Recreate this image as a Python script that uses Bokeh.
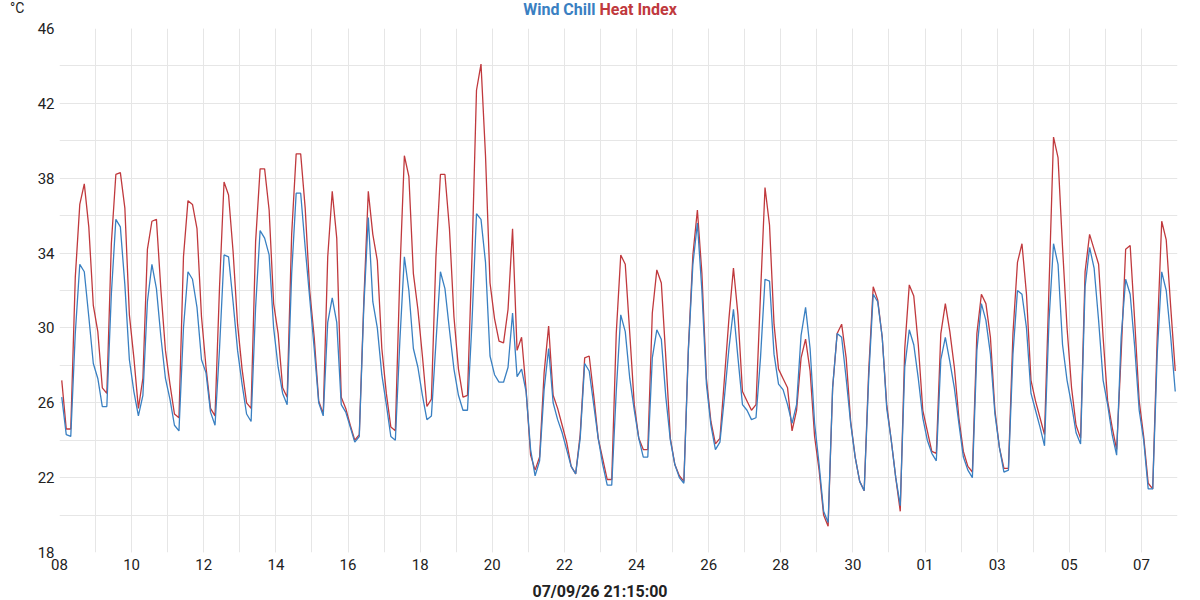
import numpy as np
from bokeh.plotting import figure
from bokeh.layouts import column
from bokeh.models import Range1d, FixedTicker, DatetimeTickFormatter, Div
from bokeh.embed import file_html
from bokeh.resources import INLINE

# readings every 3 hours, 8 per day, 08 Aug -> 07 Sep
first_reading = np.datetime64("2026-08-08T01:30")

heat_index = [
    27.2, 24.6, 24.6, 32.7, 36.6, 37.7, 35.4, 31.2,  # 08
    29.8, 26.8, 26.5, 34.5, 38.2, 38.3, 36.4, 30.7,  # 09
    28.4, 25.7, 27.3, 34.2, 35.7, 35.8, 32.0, 28.8,  # 10
    27.0, 25.4, 25.2, 33.8, 36.8, 36.6, 35.3, 30.6,  # 11
    27.9, 25.7, 25.3, 32.2, 37.8, 37.1, 34.1, 30.2,  # 12
    27.8, 26.0, 25.7, 34.6, 38.5, 38.5, 36.3, 31.3,  # 13
    29.7, 26.8, 26.3, 35.0, 39.3, 39.3, 36.4, 32.0,  # 14
    29.5, 26.1, 25.4, 33.8, 37.3, 34.8, 26.3, 25.7,  # 15
    24.8, 24.0, 24.3, 31.4, 37.3, 35.0, 33.6, 28.9,  # 16
    26.5, 24.7, 24.5, 32.9, 39.2, 38.1, 32.9, 31.0,  # 17
    28.5, 25.8, 26.2, 33.8, 38.2, 38.2, 35.3, 30.6,  # 18
    27.8, 26.3, 26.4, 33.8, 42.7, 44.1, 39.2, 32.4,  # 19
    30.5, 29.3, 29.2, 31.0, 35.3, 28.8, 29.5, 26.7,  # 20
    23.2, 22.4, 23.1, 27.6, 30.1, 26.4, 25.7, 24.8,  # 21
    23.9, 22.6, 22.2, 24.3, 28.4, 28.5, 26.4, 24.1,  # 22
    23.0, 21.9, 21.9, 29.7, 33.9, 33.4, 29.7, 25.9,  # 23
    24.1, 23.5, 23.5, 30.8, 33.1, 32.4, 28.4, 24.1,  # 24
    22.7, 22.1, 21.8, 28.9, 33.9, 36.3, 32.9, 27.3,  # 25
    25.0, 23.8, 24.1, 27.3, 30.5, 33.2, 30.7, 26.6,  # 26
    26.1, 25.6, 25.9, 31.8, 37.5, 35.5, 30.2, 27.8,  # 27
    27.3, 26.8, 24.5, 25.6, 28.4, 29.4, 27.7, 24.2,  # 28
    22.4, 20.0, 19.4, 26.8, 29.7, 30.2, 28.4, 25.0,  # 29
    23.1, 21.8, 21.3, 27.7, 32.2, 31.5, 29.5, 25.9,  # 30
    24.0, 22.0, 20.2, 28.9, 32.3, 31.7, 29.1, 25.6,  # 31
    24.5, 23.4, 23.3, 29.7, 31.3, 29.8, 27.9, 25.2,  # 01
    23.4, 22.6, 22.3, 29.7, 31.8, 31.3, 29.5, 25.6,  # 02
    23.6, 22.5, 22.5, 29.7, 33.5, 34.5, 31.8, 27.2,  # 03
    26.1, 25.2, 24.3, 32.2, 40.2, 39.1, 34.3, 30.0,  # 04
    26.8, 24.8, 24.1, 33.0, 35.0, 34.2, 33.4, 29.5,  # 05
    26.1, 24.7, 23.5, 28.6, 34.2, 34.4, 30.4, 26.1,  # 06
    24.2, 21.7, 21.4, 29.5, 35.7, 34.7, 31.1, 27.7,  # 07
]

wind_chill = [
    26.3, 24.3, 24.2, 29.7, 33.4, 33.0, 30.6, 28.1,  # 08
    27.3, 25.8, 25.8, 31.8, 35.8, 35.4, 32.3, 28.3,  # 09
    26.6, 25.3, 26.4, 31.4, 33.4, 32.1, 29.5, 27.3,  # 10
    26.2, 24.8, 24.5, 30.0, 33.0, 32.6, 31.1, 28.3,  # 11
    27.6, 25.5, 24.8, 28.9, 33.9, 33.8, 31.4, 28.8,  # 12
    27.0, 25.4, 25.0, 31.1, 35.2, 34.8, 33.9, 30.0,  # 13
    27.9, 26.5, 25.9, 32.9, 37.2, 37.2, 34.3, 31.6,  # 14
    28.9, 26.0, 25.3, 30.3, 31.6, 30.3, 25.9, 25.5,  # 15
    24.7, 23.9, 24.2, 31.1, 35.9, 31.4, 30.0, 27.5,  # 16
    25.9, 24.2, 24.0, 29.3, 33.8, 32.0, 28.9, 27.9,  # 17
    26.4, 25.1, 25.3, 29.2, 33.0, 32.1, 29.9, 27.8,  # 18
    26.4, 25.6, 25.6, 30.3, 36.1, 35.8, 33.5, 28.5,  # 19
    27.5, 27.1, 27.1, 27.9, 30.8, 27.4, 27.8, 26.6,  # 20
    23.5, 22.1, 22.9, 26.7, 28.9, 26.0, 25.1, 24.4,  # 21
    23.5, 22.6, 22.2, 24.1, 28.1, 27.7, 25.9, 24.1,  # 22
    22.7, 21.6, 21.6, 26.6, 30.7, 29.8, 27.3, 25.6,  # 23
    24.1, 23.1, 23.1, 28.4, 29.9, 29.4, 26.3, 24.0,  # 24
    22.7, 22.0, 21.7, 28.8, 33.4, 35.6, 32.0, 27.0,  # 25
    24.8, 23.5, 23.9, 26.3, 28.9, 31.0, 28.4, 25.9,  # 26
    25.6, 25.1, 25.2, 28.4, 32.6, 32.5, 28.6, 27.0,  # 27
    26.7, 25.9, 24.9, 25.9, 29.6, 31.1, 28.9, 24.9,  # 28
    22.7, 20.2, 19.6, 26.8, 29.7, 29.5, 27.3, 24.9,  # 29
    23.1, 21.8, 21.3, 27.3, 31.8, 31.4, 29.5, 25.7,  # 30
    24.0, 22.0, 20.5, 27.9, 29.9, 29.1, 27.3, 25.2,  # 31
    24.0, 23.3, 22.9, 28.3, 29.5, 28.2, 26.8, 24.9,  # 01
    23.1, 22.4, 22.0, 28.8, 31.3, 30.4, 28.6, 25.4,  # 02
    23.6, 22.3, 22.4, 28.6, 32.0, 31.8, 30.0, 26.5,  # 03
    25.6, 24.7, 23.7, 30.4, 34.5, 33.4, 29.1, 27.2,  # 04
    25.9, 24.4, 23.8, 32.2, 34.3, 33.2, 30.4, 27.2,  # 05
    25.9, 24.3, 23.2, 29.5, 32.6, 31.8, 29.0, 25.6,  # 06
    24.0, 21.4, 21.4, 28.6, 33.0, 32.0, 29.5, 26.6,  # 07
]

tick_days = ["2026-08-08", "2026-08-10", "2026-08-12", "2026-08-14", "2026-08-16",
             "2026-08-18", "2026-08-20", "2026-08-22", "2026-08-24", "2026-08-26",
             "2026-08-28", "2026-08-30", "2026-09-01", "2026-09-03", "2026-09-05",
             "2026-09-07"]
y_ticks = [18, 22, 26, 30, 34, 38, 42, 46]
y_minor = [20, 24, 28, 32, 36, 40, 44]
stamp = "07/09/26 21:15:00"

BLUE = "#3a80c2"
RED = "#c0393d"
GRID = "#e6e6e6"
FONT = "Roboto"


def ms(d):
    return np.datetime64(d, "ms").astype(np.int64).astype(float)


times = first_reading + np.arange(len(heat_index)) * np.timedelta64(3, "h")
x_start = np.datetime64("2026-08-08T00:00")
x_end = np.datetime64("2026-09-08T00:00")
day_lines = np.arange(np.datetime64("2026-08-09"), np.datetime64("2026-09-09"), np.timedelta64(1, "D"))

p = figure(width=1200, height=558, x_axis_type="datetime",
           output_backend="svg", toolbar_location=None,
           min_border_left=59, min_border_right=23,
           min_border_top=10, min_border_bottom=24)
p.x_range = Range1d(ms(x_start), ms(x_end))
p.y_range = Range1d(18, 46)
p.outline_line_color = None

p.line(times, heat_index, line_color=RED, line_width=1.3)
p.line(times, wind_chill, line_color=BLUE, line_width=1.3)

# axes
p.xaxis.ticker = FixedTicker(ticks=[ms(d) for d in tick_days],
                             minor_ticks=[ms(d) for d in day_lines])
p.xaxis.formatter = DatetimeTickFormatter(days="%d", months="%d", hours="%d", years="%d")
p.yaxis.ticker = FixedTicker(ticks=y_ticks, minor_ticks=y_minor)
for ax in (p.xaxis, p.yaxis):
    ax.axis_line_color = None
    ax.major_tick_line_color = None
    ax.minor_tick_line_color = None
    ax.major_tick_out = 0
    ax.minor_tick_out = 0
    ax.major_label_text_font = FONT
    ax.major_label_text_font_size = "15px"
    ax.major_label_text_color = "#222222"
p.xaxis.major_label_standoff = 6
p.yaxis.major_label_standoff = 5

for g in (p.xgrid, p.ygrid):
    g.grid_line_color = GRID
    g.minor_grid_line_color = GRID
    g.grid_line_width = 1

# header: unit on the left, two-coloured title in the middle
header = Div(width=1200, height=18, margin=0, text=(
    f'<div style="position:relative;width:1200px;height:18px;font-family:{FONT};">'
    '<span style="position:absolute;left:10px;top:0px;font-size:14px;line-height:16px;'
    'color:#222222;">°C</span>'
    '<div style="position:absolute;left:0;top:1px;width:1200px;text-align:center;'
    'font-size:16px;font-weight:bold;line-height:18px;">'
    f'<span style="color:{BLUE};">Wind Chill</span> '
    f'<span style="color:{RED};">Heat Index</span></div></div>'))

# footer: time stamp
footer = Div(width=1200, height=24, margin=0, text=(
    f'<div style="position:relative;width:1200px;height:24px;font-family:{FONT};">'
    '<div style="position:absolute;left:0;top:8px;width:1200px;text-align:center;'
    f'font-size:16px;font-weight:bold;line-height:16px;color:#222222;">{stamp}</div></div>'))

open("out.html", "w").write(file_html(column(header, p, footer, spacing=0), INLINE))
